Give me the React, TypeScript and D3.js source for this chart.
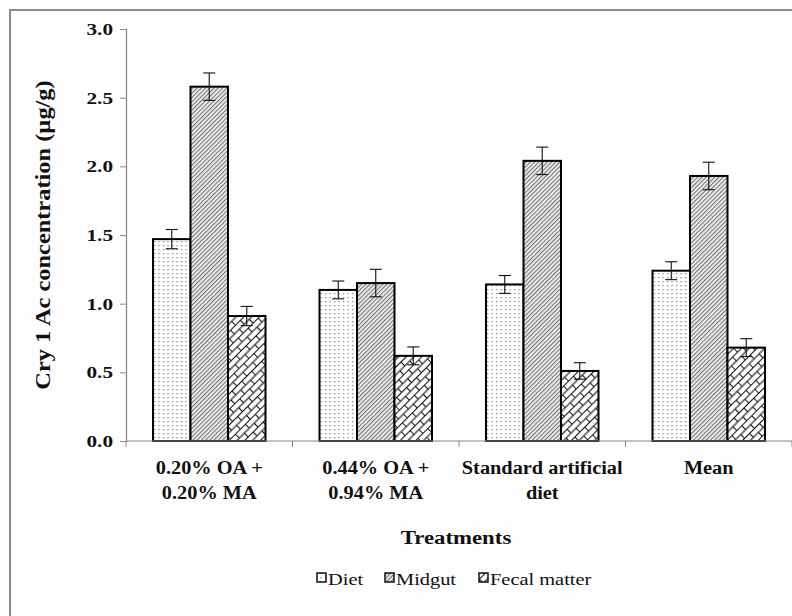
import React, { useEffect, useRef } from 'react'
import * as d3 from 'd3'

const categories = [['0.20% OA +', '0.20% MA'], ['0.44% OA +', '0.94% MA'], ['Standard artificial', 'diet'], ['Mean']]
const seriesNames = ['Diet', 'Midgut', 'Fecal matter']
const diet = [1.47, 1.10, 1.14, 1.24]
const midgut = [2.58, 1.15, 2.04, 1.93]
const fecal = [0.91, 0.62, 0.51, 0.68]
const dietErr = [0.07, 0.065, 0.065, 0.065]
const midgutErr = [0.10, 0.10, 0.10, 0.10]
const fecalErr = [0.07, 0.065, 0.06, 0.065]
const yTicks = [0, 0.5, 1.0, 1.5, 2.0, 2.5, 3.0]

export default function App() {
  const ref = useRef<SVGSVGElement>(null)

  useEffect(() => {
    const svg = d3.select(ref.current)
    svg.selectAll('*').remove()
    const font = '"Liberation Serif", "Times New Roman", serif'

    const left = 126, right = 792, top = 29, bottom = 441

    // patterns
    const defs = svg.append('defs')
    const dots = defs.append('pattern').attr('id', 'p-diet').attr('patternUnits', 'userSpaceOnUse')
      .attr('width', 4.5).attr('height', 4)
    dots.append('rect').attr('width', 4.5).attr('height', 4).attr('fill', '#fff')
    dots.append('rect').attr('x', 1).attr('y', 1).attr('width', 1.2).attr('height', 1.2).attr('fill', '#777')

    const lines = defs.append('pattern').attr('id', 'p-midgut').attr('patternUnits', 'userSpaceOnUse')
      .attr('width', 3).attr('height', 3).attr('patternTransform', 'rotate(45)')
    lines.append('rect').attr('width', 3).attr('height', 3).attr('fill', '#f4f4f4')
    lines.append('rect').attr('width', 1.2).attr('height', 3).attr('fill', '#777')

    const s = 5.5, h = 14
    const brick = defs.append('pattern').attr('id', 'p-fecal').attr('patternUnits', 'userSpaceOnUse')
      .attr('width', 2 * s).attr('height', h).attr('patternTransform', 'rotate(45)')
    brick.append('rect').attr('width', 2 * s).attr('height', h).attr('fill', '#fff')
    brick.append('path')
      .attr('d', `M0.5,0V${h}M${s + 0.5},0V${h}M0,0.5H${s}M${s},${h / 2 + 0.5}H${2 * s}`)
      .attr('stroke', '#111').attr('stroke-width', 1.1).attr('fill', 'none')

    const fills = ['url(#p-diet)', 'url(#p-midgut)', 'url(#p-fecal)']

    // frame
    svg.append('rect').attr('x', 10).attr('y', 10).attr('width', 820).attr('height', 640)
      .attr('fill', '#fdfdfd').attr('stroke', '#8a8a8a').attr('stroke-width', 2)

    const x0 = d3.scaleBand<number>().domain(d3.range(categories.length)).range([left, right]).padding(0)
    const x1 = d3.scaleBand<string>().domain(seriesNames).range([0, x0.bandwidth()]).paddingInner(0).paddingOuter(0.72)
    const y = d3.scaleLinear().domain([0, 3]).range([bottom, top])

    // y axis
    const yAxis = svg.append('g').attr('transform', `translate(${left},0)`)
      .call(d3.axisLeft(y).tickValues(yTicks).tickFormat(d3.format('.1f')).tickSize(6))
    yAxis.select('.domain').attr('stroke', '#888').attr('stroke-width', 1.2)
    yAxis.selectAll('.tick line').attr('stroke', '#888')
    yAxis.selectAll('.tick text').attr('font-family', font).attr('font-size', 17)
      .attr('font-weight', 'bold').attr('fill', '#111').attr('x', 0)
      .attr('transform', 'translate(-13,0) scale(1.25,1)')

    // bars
    const values = [diet, midgut, fecal]
    const errs = [dietErr, midgutErr, fecalErr]
    const data = categories.flatMap((_, i) => seriesNames.map((name, j) => ({
      i, j, name, v: values[j][i], e: errs[j][i]
    })))

    svg.append('g').selectAll('rect').data(data).join('rect')
      .attr('x', d => x0(d.i)! + x1(d.name)!)
      .attr('y', d => y(d.v))
      .attr('width', x1.bandwidth())
      .attr('height', d => y(0) - y(d.v))
      .attr('fill', d => fills[d.j])
      .attr('stroke', '#000').attr('stroke-width', 2)

    // x axis
    svg.append('line').attr('x1', left).attr('x2', right).attr('y1', bottom).attr('y2', bottom)
      .attr('stroke', '#888').attr('stroke-width', 1.2)
    svg.append('g').selectAll('line').data(d3.range(categories.length + 1)).join('line')
      .attr('x1', d => left + d * x0.bandwidth()).attr('x2', d => left + d * x0.bandwidth())
      .attr('y1', bottom).attr('y2', bottom + 6).attr('stroke', '#888')

    // error bars
    const eb = svg.append('g').attr('stroke', '#111').attr('stroke-width', 1.1)
    data.forEach(d => {
      const cx = x0(d.i)! + x1(d.name)! + x1.bandwidth() / 2
      const yt = y(d.v + d.e), yb = y(d.v - d.e)
      eb.append('line').attr('x1', cx).attr('x2', cx).attr('y1', yt).attr('y2', yb)
      eb.append('line').attr('x1', cx - 6).attr('x2', cx + 6).attr('y1', yt).attr('y2', yt)
      eb.append('line').attr('x1', cx - 6).attr('x2', cx + 6).attr('y1', yb).attr('y2', yb)
    })

    // category labels (source text is slightly stretched horizontally)
    categories.forEach((lab, i) => {
      const cx = x0(i)! + x0.bandwidth() / 2
      lab.forEach((line, k) => {
        svg.append('text').attr('transform', `translate(${cx},${474 + k * 25}) scale(1.13,1)`)
          .attr('font-family', font).attr('font-size', 18).attr('font-weight', 'bold')
          .attr('text-anchor', 'middle').attr('fill', '#111').text(line)
      })
    })

    svg.append('text').attr('transform', 'translate(456,544) scale(1.2,1)').attr('text-anchor', 'middle')
      .attr('font-family', font).attr('font-size', 19).attr('font-weight', 'bold').attr('fill', '#111')
      .text('Treatments')

    svg.append('text').attr('transform', 'translate(50,235) rotate(-90) scale(1.22,1)').attr('text-anchor', 'middle')
      .attr('font-family', font).attr('font-size', 20).attr('font-weight', 'bold').attr('fill', '#111')
      .text('Cry 1 Ac concentration (µg/g)')

    // legend
    const legendX = [317, 385, 479]
    const lg = svg.append('g')
    seriesNames.forEach((name, j) => {
      lg.append('rect').attr('x', legendX[j]).attr('y', 573).attr('width', 9).attr('height', 9)
        .attr('fill', fills[j]).attr('stroke', '#111').attr('stroke-width', 1.5)
      lg.append('text').attr('transform', `translate(${legendX[j] + 11},585) scale(1.2,1)`)
        .attr('font-family', font).attr('font-size', 17).attr('fill', '#111').text(name)
    })
  }, [])

  return (
    <svg ref={ref} width={792} height={616} style={{ position: 'absolute', left: 0, top: 0, background: '#fff' }} />
  )
}
